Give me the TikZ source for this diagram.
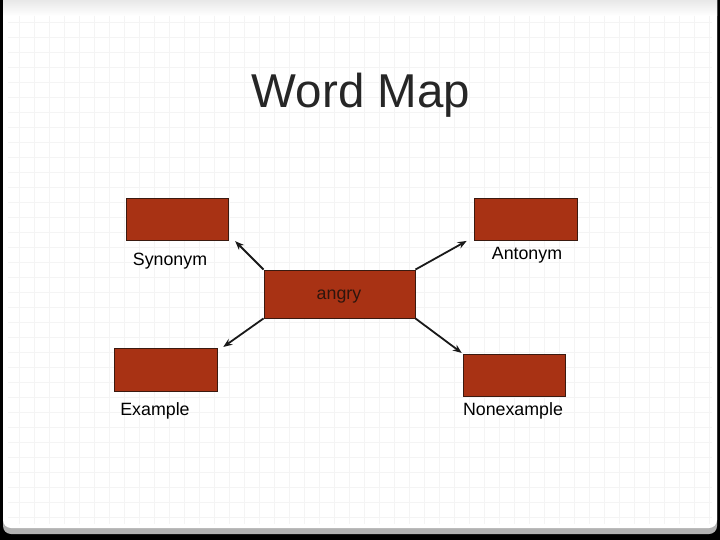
\documentclass[tikz,border=0pt]{standalone}
\usepackage{fontspec}
\setmainfont{Liberation Sans}
\usetikzlibrary{arrows.meta}
\definecolor{crust}{HTML}{A83214}
\definecolor{cedge}{HTML}{3A1A10}
\definecolor{cink}{HTML}{262626}
\definecolor{cgrid}{HTML}{F4F4F4}

\begin{document}
\begin{tikzpicture}[
  x=1pt, y=-1pt,
  every node/.append style={font=\fontsize{17.8}{20}\selectfont},
  wordbox/.style={
    rectangle, fill=crust, draw=cedge, line width=0.9pt,
    minimum width=102pt, minimum height=42pt, inner sep=0pt
  },
  wordlabel/.style={text=black, inner sep=0pt},
  maparrow/.style={
    -{Stealth[length=9pt, width=7pt]}, line width=1.8pt, draw=black!90,
    shorten >=1pt
  },
  gridline/.style={cgrid, line width=0.8pt}
]

% slide frame
\useasboundingbox (0,0) rectangle (720,540);
\fill[black] (0,0) rectangle (720,540);
\fill[gray!60, rounded corners=8pt] (3,-10) rectangle (717,534);
\fill[white, rounded corners=8pt] (3,-10) rectangle (717,528);
\shade[top color=gray!18, bottom color=white] (3,0) rectangle (717,16);
\foreach \gx in {19,34,...,709} {
  \draw[gridline] (\gx,16) -- (\gx,524);
}
\foreach \gy in {22,37,...,520} {
  \draw[gridline] (8,\gy) -- (712,\gy);
}

% title
\node[text=cink, font=\fontsize{47.5}{50}\selectfont, anchor=base]
  (title) at (361,108) {Word Map};

% boxes
\node[wordbox, minimum width=151pt, minimum height=48pt] (angry) at (339.5,294) {};
\node[wordbox] (syn) at (177,219) {};
\node[wordbox, minimum width=103pt] (ant) at (525.5,219) {};
\node[wordbox, minimum width=103pt, minimum height=43pt] (ex) at (165.5,369.5) {};
\node[wordbox] (nonex) at (514,375) {};

% labels
\node[text=cedge!80!black, inner sep=0pt] (angrytxt) at (339,297) {angry};
\node[wordlabel] (synlbl) at (170,261) {Synonym};
\node[wordlabel] (antlbl) at (527,255) {Antonym};
\node[wordlabel] (exlbl) at (155,411) {Example};
\node[wordlabel] (nonexlbl) at (513,411) {Nonexample};

% arrows
\draw[maparrow] (angry.north west) -- ([xshift=6pt]syn.south east);
\draw[maparrow] (angry.north east) -- ([xshift=-6pt]ant.south west);
\draw[maparrow] (angry.south west) -- ([xshift=5pt]ex.north east);
\draw[maparrow] (angry.south east) -- (nonex.north west);

\end{tikzpicture}
\end{document}
